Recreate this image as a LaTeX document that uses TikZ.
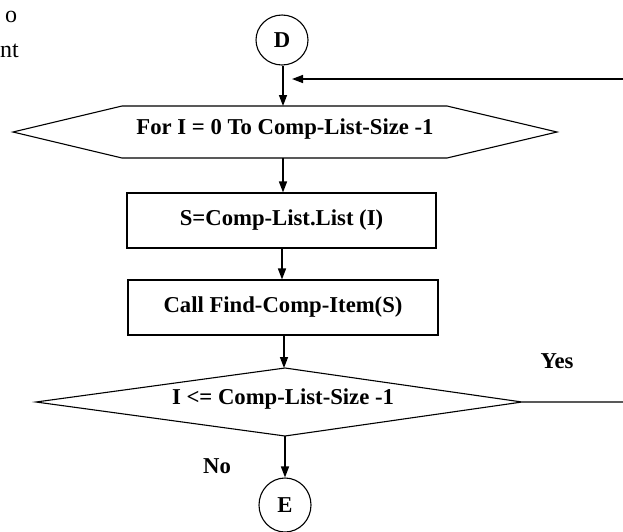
\documentclass[tikz,border=0pt]{standalone}
\usepackage{fontspec}
\setmainfont{Liberation Serif}
\usetikzlibrary{arrows.meta,shapes.geometric}
\tikzset{
  lbl/.style={font=\fontsize{22.7}{26}\selectfont\bfseries, inner sep=0pt},
  plain/.style={font=\fontsize{24}{28}\selectfont, inner sep=0pt, anchor=base west},
  shapeline/.style={line width=1.1pt, black},
  boxnode/.style={draw, line width=1.1pt, rectangle, inner sep=0pt, font=\fontsize{22.7}{26}\selectfont\bfseries},
  conn/.style={ellipse, draw, line width=1.1pt, inner sep=0pt, font=\fontsize{22.7}{26}\selectfont\bfseries},
  arr/.style={line width=1.4pt, -{Triangle[length=11pt,width=8pt]}},
  yesline/.style={line width=1.6pt, black!65}
}
\begin{document}
\begin{tikzpicture}[x=1pt,y=-1pt]
\useasboundingbox (0,0) rectangle (623,531);
% partial paragraph text
\node[plain] (t1) at (5,22) {o};
\node[plain] (t2) at (0,57) {nt};
% connector D
\node[conn, minimum width=52pt, minimum height=50pt] (D) at (282,40) {D};
% hexagon
\coordinate (hL) at (13,132);
\coordinate (hTL) at (122,106);
\coordinate (hTR) at (447,106);
\coordinate (hR) at (557,132);
\coordinate (hBR) at (447,158);
\coordinate (hBL) at (122,158);
\draw[shapeline] (hL) -- (hTL) -- (hTR) -- (hR) -- (hBR) -- (hBL) -- cycle;
\node[lbl] (hex) at (285,129) {For I = 0 To Comp-List-Size -1};
\coordinate (hexTop) at (283,106);
\coordinate (hexBot) at (283,158);
% boxes
\node[boxnode, minimum width=309pt, minimum height=55pt] (b1) at (281.5,220.5) {\raisebox{3pt}{S=Comp-List.List (I)}};
\node[boxnode, minimum width=310pt, minimum height=55pt] (b2) at (283,307.5) {\raisebox{3pt}{Call Find-Comp-Item(S)}};
% diamond
\coordinate (dL) at (36,402);
\coordinate (dT) at (285,368);
\coordinate (dR) at (522,402);
\coordinate (dB) at (285,436);
\draw[shapeline] (dL) -- (dT) -- (dR) -- (dB) -- cycle;
\node[lbl] (dia) at (283,399) {I <= Comp-List-Size -1};
% connector E
\node[conn, minimum width=52pt, minimum height=54pt] (E) at (285,505) {E};
% feedback
\coordinate (fbS) at (623,79);
\coordinate (fbE) at (292,79);
\coordinate (yesE) at (623,402);
% arrows
\draw[arr] (D.south -| hexTop) -- (hexTop);
\draw[arr] (fbS) -- (fbE);
\draw[arr] (hexBot) -- (hexBot |- b1.north);
\draw[arr] (b1.south -| 282,0) -- (b2.north -| 282,0);
\draw[arr] (b2.south -| 284,0) -- (dT -| 284,0);
\draw[arr] (dB) -- (E.north);
\draw[yesline] (dR) -- (yesE);
% labels
\node[lbl] (yes) at (557,361) {Yes};
\node[lbl] (no) at (217,466) {No};
\end{tikzpicture}
\end{document}
